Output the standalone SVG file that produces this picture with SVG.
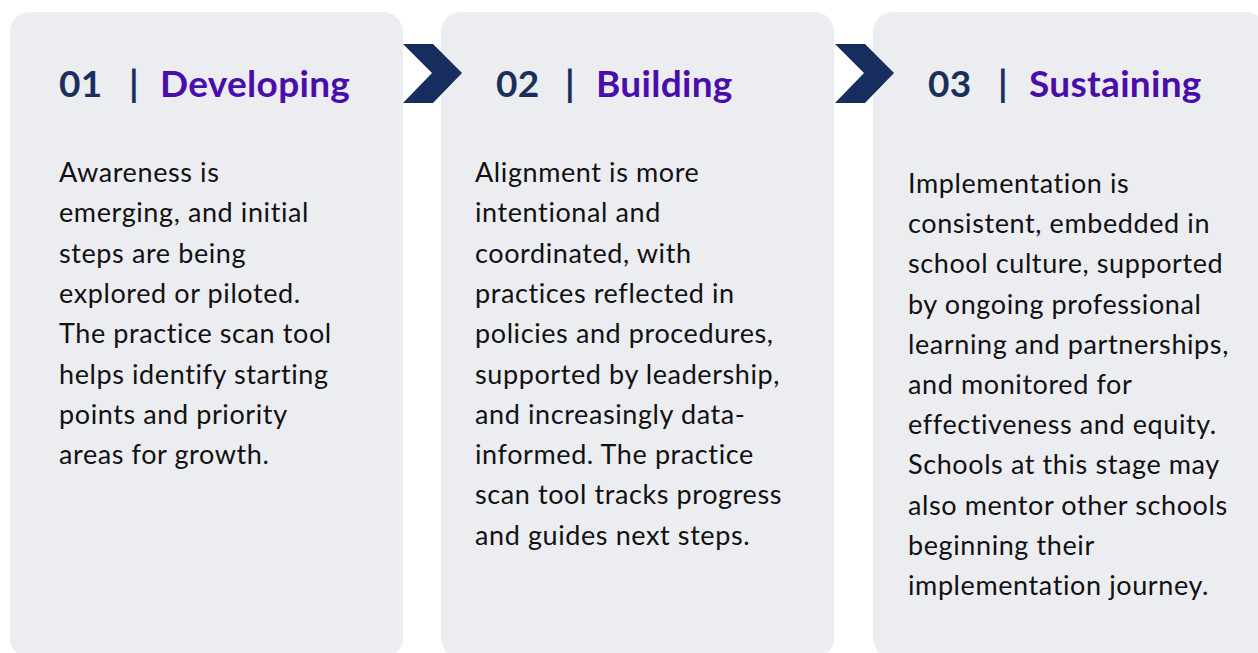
<svg xmlns="http://www.w3.org/2000/svg" width="1258" height="653" viewBox="0 0 1258 653">
  <style>
    .card { fill: #ECEDF1; }
    .chev { fill: #172D5E; }
    .num { font-family: Lato, "Liberation Sans", sans-serif; font-weight: 700; font-size: 37px; letter-spacing: 0.3px; fill: #1B2F5E; }
    .title { font-family: Lato, "Liberation Sans", sans-serif; font-weight: 700; font-size: 37px; letter-spacing: 0.3px; fill: #4A0DAB; }
    .body { font-family: Lato, "Liberation Sans", sans-serif; font-size: 27px; letter-spacing: 0.6px; fill: #111111; }
  </style>
  <rect width="1258" height="653" fill="#FFFFFF"/>

  <!-- stage 1 -->
  <g id="stage-developing">
    <rect class="card" x="10" y="12" width="393" height="646" rx="20"/>
    <text class="num" x="59" y="97">01</text>
    <text class="num" x="129" y="97">|</text>
    <text class="title" x="160" y="97">Developing</text>
    <text class="body" x="59" y="182">
      <tspan x="59" y="182">Awareness is</tspan>
      <tspan x="59" y="222.3">emerging, and initial</tspan>
      <tspan x="59" y="262.6">steps are being</tspan>
      <tspan x="59" y="302.9">explored or piloted.</tspan>
      <tspan x="59" y="343.2">The practice scan tool</tspan>
      <tspan x="59" y="383.5">helps identify starting</tspan>
      <tspan x="59" y="423.8">points and priority</tspan>
      <tspan x="59" y="464.1">areas for growth.</tspan>
    </text>
  </g>

  <!-- stage 2 -->
  <g id="stage-building">
    <rect class="card" x="441" y="12" width="393" height="646" rx="20"/>
    <text class="num" x="496" y="97">02</text>
    <text class="num" x="565" y="97">|</text>
    <text class="title" x="596" y="97">Building</text>
    <text class="body" x="475" y="182">
      <tspan x="475" y="182">Alignment is more</tspan>
      <tspan x="475" y="222.3">intentional and</tspan>
      <tspan x="475" y="262.6">coordinated, with</tspan>
      <tspan x="475" y="302.9">practices reflected in</tspan>
      <tspan x="475" y="343.2">policies and procedures,</tspan>
      <tspan x="475" y="383.5">supported by leadership,</tspan>
      <tspan x="475" y="423.8">and increasingly data-</tspan>
      <tspan x="475" y="464.1">informed. The practice</tspan>
      <tspan x="475" y="504.4">scan tool tracks progress</tspan>
      <tspan x="475" y="544.7">and guides next steps.</tspan>
    </text>
  </g>

  <!-- stage 3 -->
  <g id="stage-sustaining">
    <rect class="card" x="873" y="12" width="393" height="646" rx="20"/>
    <text class="num" x="928" y="97">03</text>
    <text class="num" x="998" y="97">|</text>
    <text class="title" x="1029" y="97">Sustaining</text>
    <text class="body" x="908" y="193">
      <tspan x="908" y="193">Implementation is</tspan>
      <tspan x="908" y="233.2">consistent, embedded in</tspan>
      <tspan x="908" y="273.4">school culture, supported</tspan>
      <tspan x="908" y="313.6">by ongoing professional</tspan>
      <tspan x="908" y="353.8">learning and partnerships,</tspan>
      <tspan x="908" y="394">and monitored for</tspan>
      <tspan x="908" y="434.2">effectiveness and equity.</tspan>
      <tspan x="908" y="474.4">Schools at this stage may</tspan>
      <tspan x="908" y="514.6">also mentor other schools</tspan>
      <tspan x="908" y="554.8">beginning their</tspan>
      <tspan x="908" y="595">implementation journey.</tspan>
    </text>
  </g>

  <!-- chevron connectors between stages -->
  <g id="connectors">
    <polygon class="chev" points="403,44 433,44 462,73 433,103 403,103 432,73"/>
    <polygon class="chev" points="835,44 865,44 894,73 865,103 835,103 864,73"/>
  </g>
</svg>
